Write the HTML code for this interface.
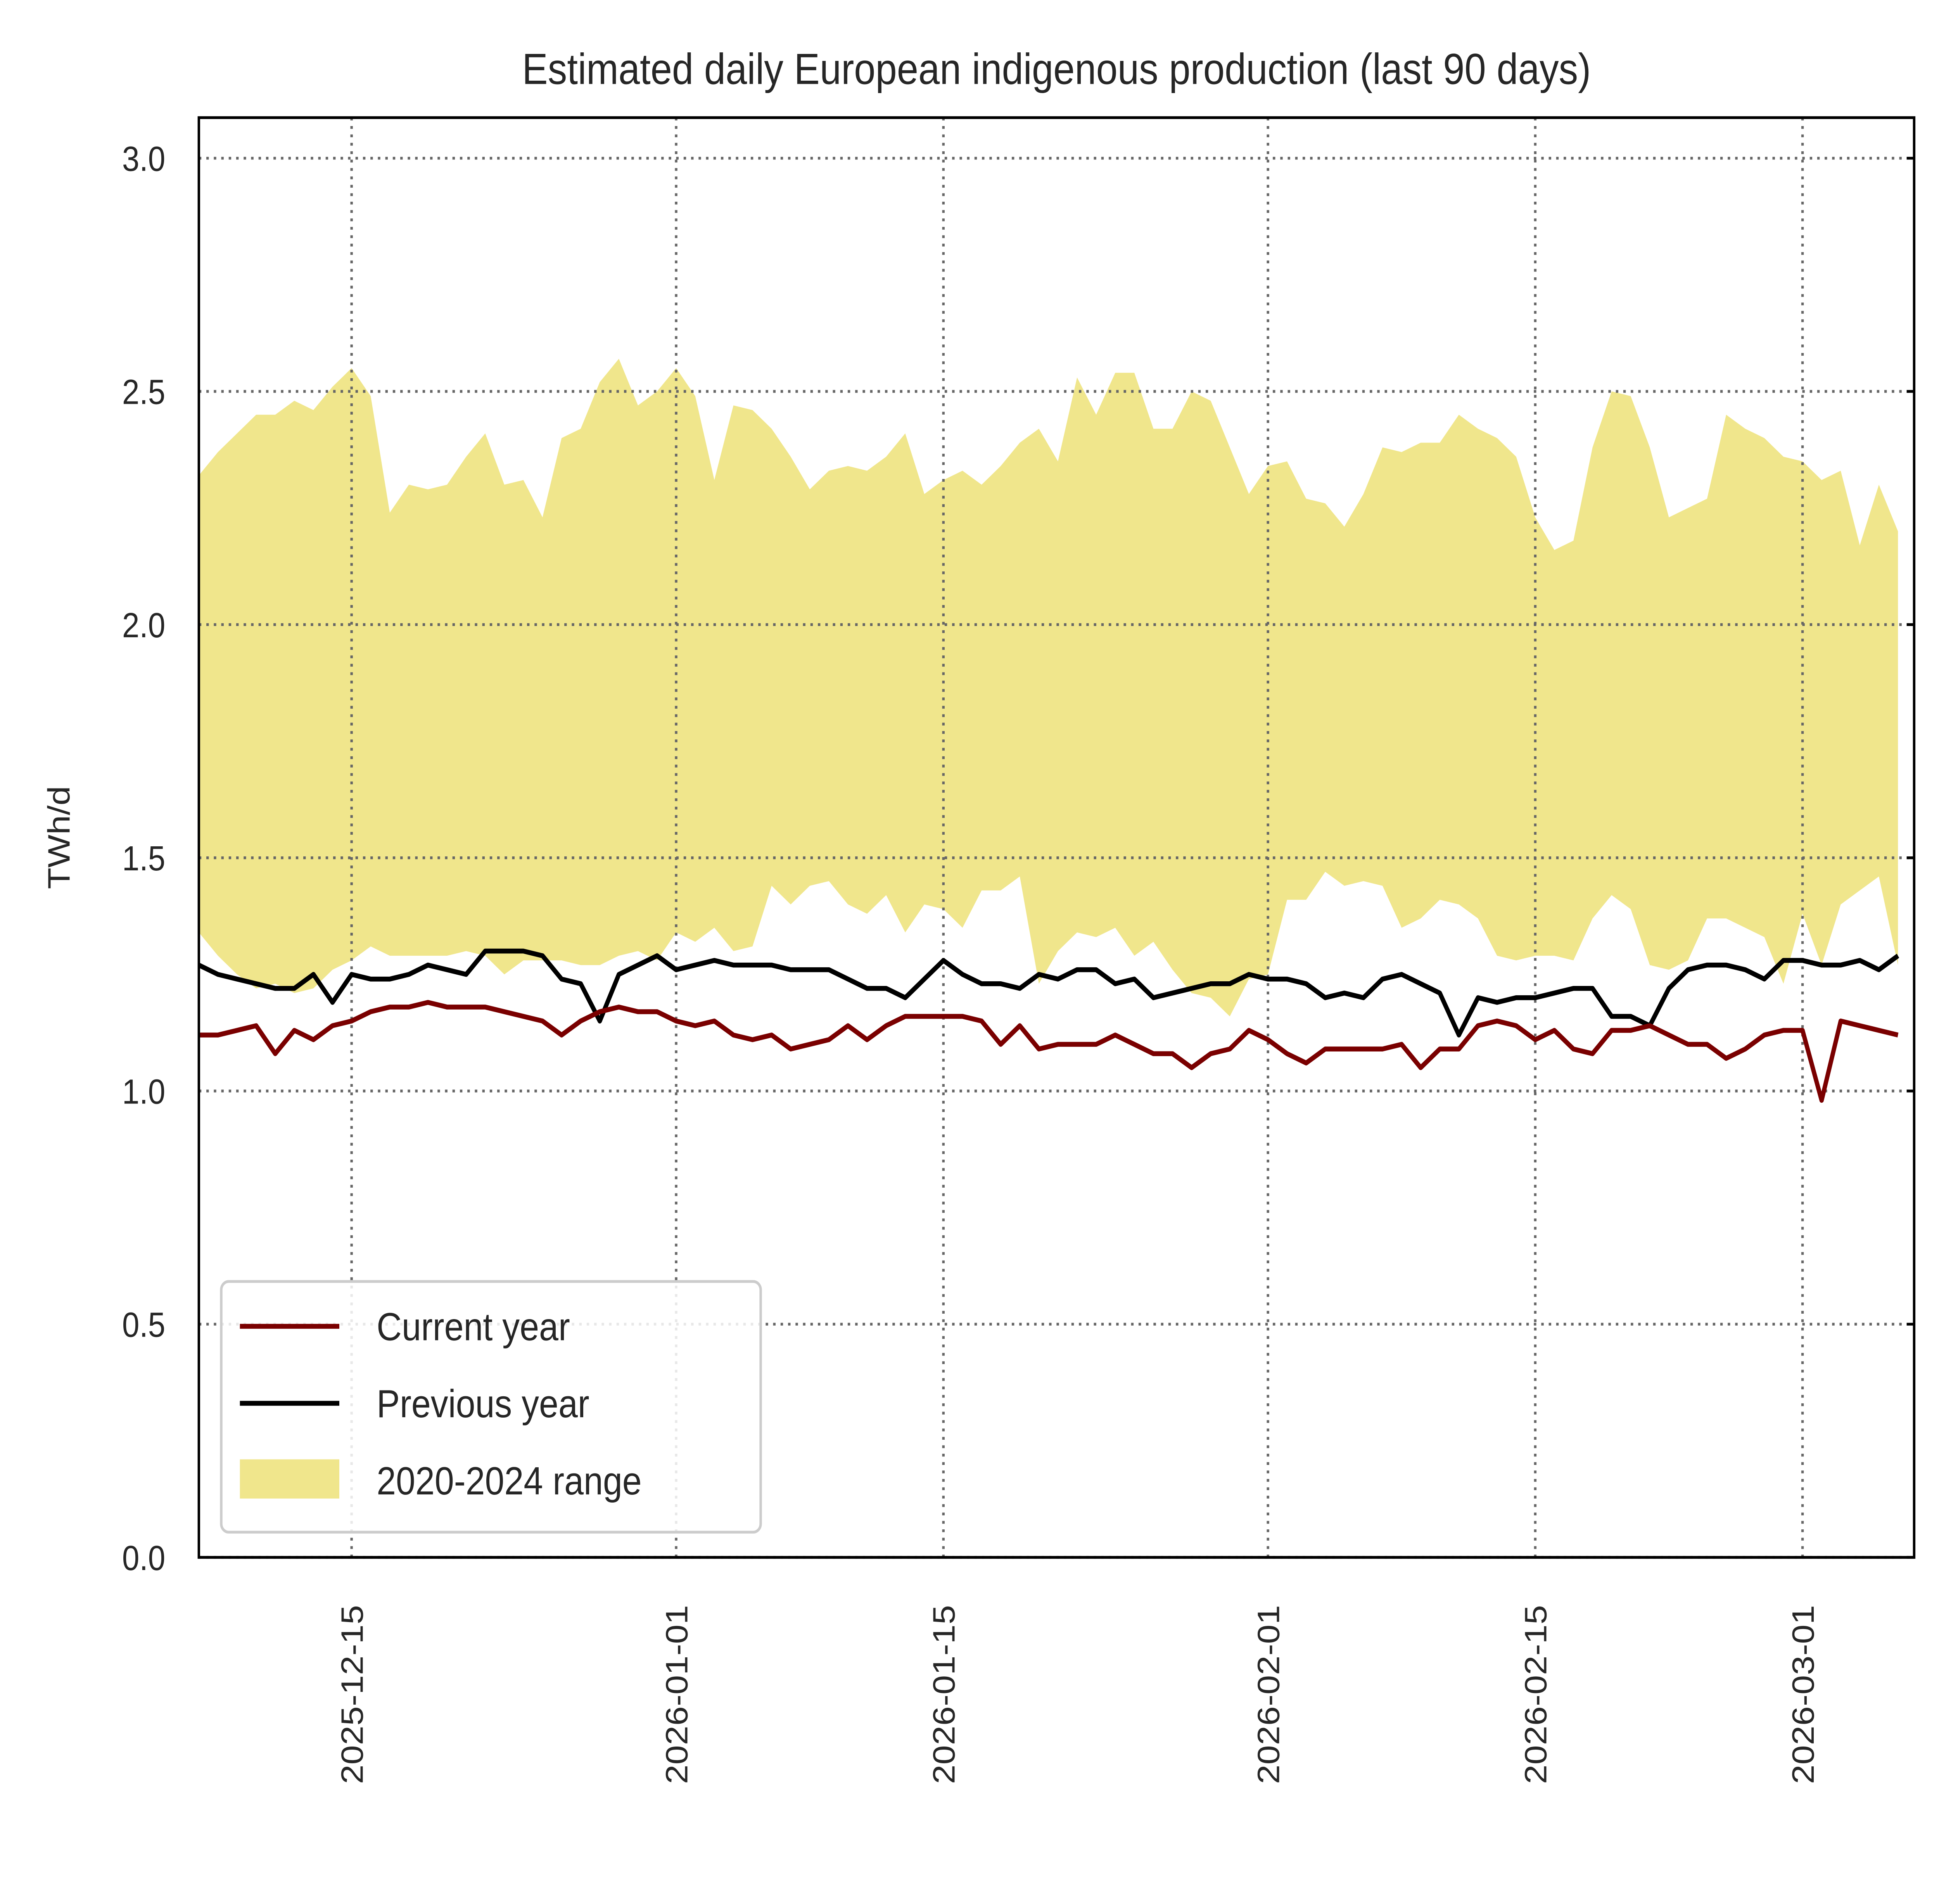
<!DOCTYPE html>
<html><head><meta charset="utf-8"><style>
html,body{margin:0;padding:0;background:#fff;width:100%;height:100%;overflow:hidden;}
svg{display:block;font-family:"Liberation Sans",Arial,sans-serif;width:100vw;height:100vh;}
</style></head><body>
<svg id="chart" viewBox="0 0 1560 1359.5" preserveAspectRatio="none" xmlns="http://www.w3.org/2000/svg">
<rect x="0" y="0" width="1560" height="1360" fill="#fff"/>
<text x="850" y="60" font-size="31" fill="#262626" text-anchor="middle">Estimated daily European indigenous production (last 90 days)</text>
<text transform="translate(56,598) rotate(-90)" font-size="25" fill="#262626" text-anchor="middle">TWh/d</text>
<g id="plot"></g>
<rect x="160" y="84" width="1380" height="1028" fill="none" stroke="#000" stroke-width="2"/>
<g>
<rect x="178" y="915" width="434" height="179" rx="6" fill="#fff" fill-opacity="0.85" stroke="#ccc" stroke-width="2"/>
<line x1="193" y1="947" x2="273" y2="947" stroke="#7a0000" stroke-width="3.5"/>
<text x="303" y="957" font-size="28" fill="#262626">Current year</text>
<line x1="193" y1="1002" x2="273" y2="1002" stroke="#000" stroke-width="3.5"/>
<text x="303" y="1012" font-size="28" fill="#262626">Previous year</text>
<rect x="193" y="1042" width="80" height="28" fill="#f0e68c"/>
<text x="303" y="1067" font-size="28" fill="#262626">2020-2024 range</text>
</g>
</svg>
<script>
const current = [1.12,1.12,1.13,1.14,1.08,1.13,1.11,1.14,1.15,1.17,
1.18,1.18,1.19,1.18,1.18,1.18,1.17,1.16,1.15,1.12,
1.15,1.17,1.18,1.17,1.17,1.15,1.14,1.15,1.12,1.11,
1.12,1.09,1.10,1.11,1.14,1.11,1.14,1.16,1.16,1.16,
1.16,1.15,1.10,1.14,1.09,1.10,1.10,1.10,1.12,1.10,
1.08,1.08,1.05,1.08,1.09,1.13,1.11,1.08,1.06,1.09,
1.09,1.09,1.09,1.10,1.05,1.09,1.09,1.14,1.15,1.14,
1.11,1.13,1.09,1.08,1.13,1.13,1.14,1.12,1.10,1.10,
1.07,1.09,1.12,1.13,1.13,0.98,1.15,1.14,1.13,1.12];
const previous = [1.27,1.25,1.24,1.23,1.22,1.22,1.25,1.19,1.25,1.24,
1.24,1.25,1.27,1.26,1.25,1.30,1.30,1.30,1.29,1.24,
1.23,1.15,1.25,1.27,1.29,1.26,1.27,1.28,1.27,1.27,
1.27,1.26,1.26,1.26,1.24,1.22,1.22,1.20,1.24,1.28,
1.25,1.23,1.23,1.22,1.25,1.24,1.26,1.26,1.23,1.24,
1.20,1.21,1.22,1.23,1.23,1.25,1.24,1.24,1.23,1.20,
1.21,1.20,1.24,1.25,1.23,1.21,1.12,1.20,1.19,1.20,
1.20,1.21,1.22,1.22,1.16,1.16,1.14,1.22,1.26,1.27,
1.27,1.26,1.24,1.28,1.28,1.27,1.27,1.28,1.26,1.29];
const rangeMax = [2.32,2.37,2.41,2.45,2.45,2.48,2.46,2.51,2.55,2.49,
2.24,2.30,2.29,2.30,2.36,2.41,2.30,2.31,2.23,2.40,
2.42,2.52,2.57,2.47,2.50,2.55,2.49,2.31,2.47,2.46,
2.42,2.36,2.29,2.33,2.34,2.33,2.36,2.41,2.28,2.31,
2.33,2.30,2.34,2.39,2.42,2.35,2.53,2.45,2.54,2.54,
2.42,2.42,2.50,2.48,2.38,2.28,2.34,2.35,2.27,2.26,
2.21,2.28,2.38,2.37,2.39,2.39,2.45,2.42,2.40,2.36,
2.23,2.16,2.18,2.38,2.50,2.49,2.38,2.23,2.25,2.27,
2.45,2.42,2.40,2.36,2.35,2.31,2.33,2.17,2.30,2.20];
const rangeMin = [1.34,1.29,1.25,1.22,1.23,1.21,1.22,1.26,1.28,1.31,
1.29,1.29,1.29,1.29,1.30,1.29,1.25,1.28,1.28,
1.28,1.27,1.27,1.29,1.30,1.28,1.34,1.32,1.35,1.30,
1.31,1.44,1.40,1.44,1.45,1.40,1.38,1.42,1.34,1.40,
1.39,1.35,1.43,1.43,1.46,1.23,1.30,1.34,1.33,1.35,
1.29,1.32,1.26,1.21,1.20,1.16,1.24,1.25,1.41,1.41,
1.47,1.44,1.45,1.44,1.35,1.37,1.41,1.40,1.37,1.29,
1.28,1.29,1.29,1.28,1.37,1.42,1.39,1.27,1.26,1.28,
1.37,1.37,1.35,1.33,1.23,1.38,1.27,1.40,1.43,1.46,1.27];
const yTicks = [0.0,0.5,1.0,1.5,2.0,2.5,3.0];
const xTickLabels = ["2025-12-15","2026-01-01","2026-01-15","2026-02-01","2026-02-15","2026-03-01"];
const xTickDays = [8,25,39,56,70,84];

const NS="http://www.w3.org/2000/svg";
const L=160,R=1540,T=84,B=1112,YMAX=3.087;
const N=90;
function xs(i){return L+i*(1527-L)/(N-1);}
function ys(v){return B-v*(B-T)/YMAX;}
const g=document.getElementById('plot');
function mk(tag,attrs){const e=document.createElementNS(NS,tag);for(const k in attrs)e.setAttribute(k,attrs[k]);g.appendChild(e);return e;}

let d="";
for(let i=0;i<N;i++)d+=(i?"L":"M")+xs(i).toFixed(2)+","+ys(rangeMax[i]).toFixed(2);
for(let i=N-1;i>=0;i--)d+="L"+xs(i).toFixed(2)+","+ys(rangeMin[Math.min(i,rangeMin.length-1)]).toFixed(2);
const band=mk('path',{d:d+"Z",fill:"#f0e68c",stroke:"none"});



yTicks.forEach(v=>{
  const y=ys(v);
  const gl=mk('line',{x1:L,x2:R,y1:y,y2:y,stroke:"#666",'stroke-width':2,'stroke-dasharray':"2,4"});
  
  
  const tk=mk('line',{x1:R-6,x2:R,y1:y,y2:y,stroke:"#000",'stroke-width':2});
  
  
  const t=mk('text',{x:133,y:y+9,'font-size':25,fill:"#262626",'text-anchor':"end"});
  t.textContent=v.toFixed(1);
  
  
});
xTickDays.forEach((dd,k)=>{
  const x=xs(dd);
  const gl=mk('line',{x1:x,x2:x,y1:T,y2:B,stroke:"#666",'stroke-width':2,'stroke-dasharray':"2,4"});
  
  
  const t=mk('text',{transform:`translate(${x+9},1146) rotate(-90)`,'font-size':25,fill:"#262626",'text-anchor':"end"});
  t.textContent=xTickLabels[k];
  
  
});

function line(arr,color,name){
  let p="";arr.forEach((v,i)=>{p+=(i?"L":"M")+xs(i).toFixed(2)+","+ys(v).toFixed(2);});
  const e=mk('path',{d:p,fill:"none",stroke:color,'stroke-width':3.5,'stroke-linejoin':"round"});
  
  
}
line(previous,"#000","previous-year-line");
line(current,"#7a0000","current-year-line");
</script>
</body></html>
